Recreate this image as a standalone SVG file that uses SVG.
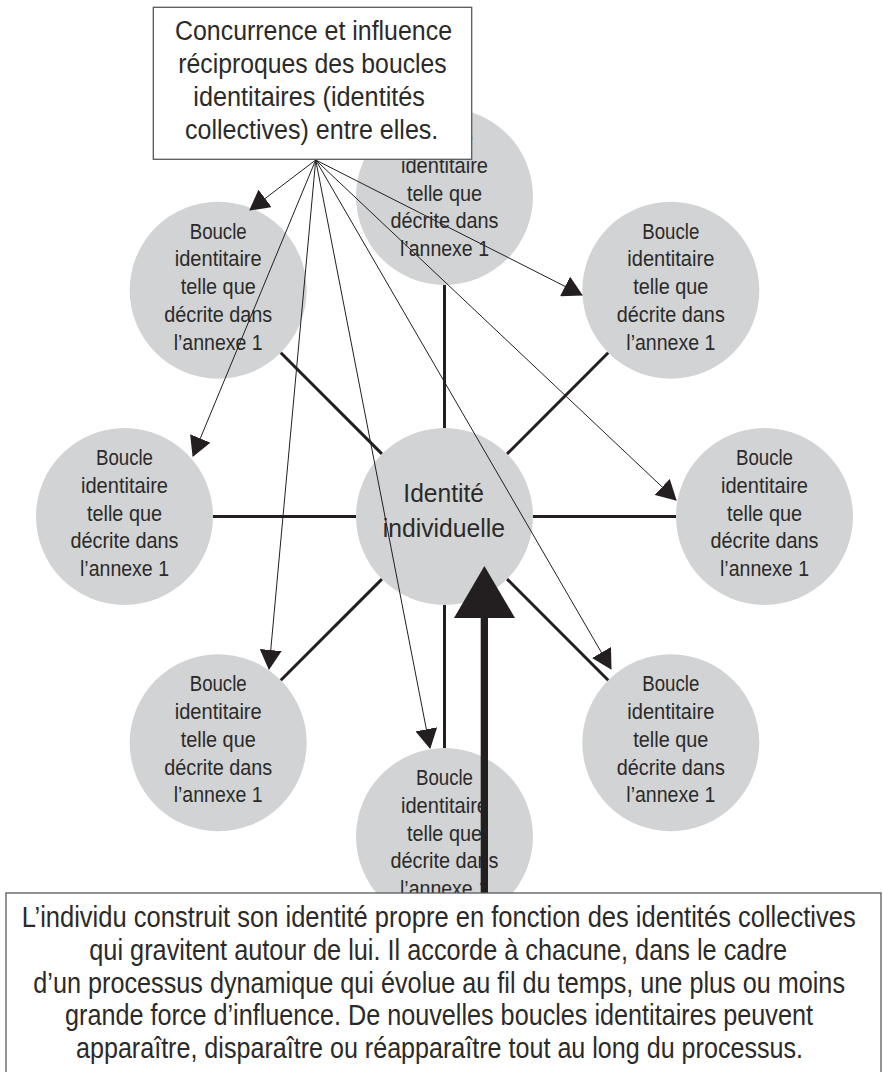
<svg xmlns="http://www.w3.org/2000/svg" width="883" height="1072" viewBox="0 0 883 1072">
<style>
.loop{fill:#d1d3d4;stroke:none}
.lbl{font-family:"Liberation Sans",Arial,sans-serif;font-size:22px;fill:#2b2a29}
.big{font-family:"Liberation Sans",Arial,sans-serif;font-size:26px;fill:#2b2a29}
.box{fill:#ffffff;stroke:#58595b;stroke-width:1.3}
.boxtxt{font-family:"Liberation Sans",Arial,sans-serif;font-size:27px;fill:#2b2a29}
.boxtxt2{font-family:"Liberation Sans",Arial,sans-serif;font-size:29px;fill:#2b2a29}
.spoke{stroke:#231f20;stroke-width:3;fill:none}
.fan{stroke:#231f20;stroke-width:1;fill:none;marker-end:url(#head)}
.thick{fill:#231f20;stroke:none}
</style>
<defs>
<marker id="head" viewBox="0 0 20 22" refX="19" refY="11" markerWidth="20" markerHeight="22" markerUnits="userSpaceOnUse" orient="auto">
<path d="M0,0 L20,11 L0,22 z" fill="#231f20"/>
</marker>
</defs>

<!-- outer loops -->
<g id="loop-top" transform="translate(444.5,196.5)">
<circle class="loop" r="88.5"/>
<text class="lbl" x="-28.5" y="-51.5" textLength="57" lengthAdjust="spacingAndGlyphs">Boucle</text>
<text class="lbl" x="-43.5" y="-23.75" textLength="87" lengthAdjust="spacingAndGlyphs">identitaire</text>
<text class="lbl" x="-37.5" y="4" textLength="75" lengthAdjust="spacingAndGlyphs">telle que</text>
<text class="lbl" x="-54" y="31.75" textLength="108" lengthAdjust="spacingAndGlyphs">décrite dans</text>
<text class="lbl" x="-44.5" y="59.5" textLength="89" lengthAdjust="spacingAndGlyphs">l’annexe 1</text>
</g>
<g id="loop-upper-right" transform="translate(670.8,290.2)">
<circle class="loop" r="88.5"/>
<text class="lbl" x="-28.5" y="-51.5" textLength="57" lengthAdjust="spacingAndGlyphs">Boucle</text>
<text class="lbl" x="-43.5" y="-23.75" textLength="87" lengthAdjust="spacingAndGlyphs">identitaire</text>
<text class="lbl" x="-37.5" y="4" textLength="75" lengthAdjust="spacingAndGlyphs">telle que</text>
<text class="lbl" x="-54" y="31.75" textLength="108" lengthAdjust="spacingAndGlyphs">décrite dans</text>
<text class="lbl" x="-44.5" y="59.5" textLength="89" lengthAdjust="spacingAndGlyphs">l’annexe 1</text>
</g>
<g id="loop-right" transform="translate(764.5,516.5)">
<circle class="loop" r="88.5"/>
<text class="lbl" x="-28.5" y="-51.5" textLength="57" lengthAdjust="spacingAndGlyphs">Boucle</text>
<text class="lbl" x="-43.5" y="-23.75" textLength="87" lengthAdjust="spacingAndGlyphs">identitaire</text>
<text class="lbl" x="-37.5" y="4" textLength="75" lengthAdjust="spacingAndGlyphs">telle que</text>
<text class="lbl" x="-54" y="31.75" textLength="108" lengthAdjust="spacingAndGlyphs">décrite dans</text>
<text class="lbl" x="-44.5" y="59.5" textLength="89" lengthAdjust="spacingAndGlyphs">l’annexe 1</text>
</g>
<g id="loop-lower-right" transform="translate(670.8,742.8)">
<circle class="loop" r="88.5"/>
<text class="lbl" x="-28.5" y="-51.5" textLength="57" lengthAdjust="spacingAndGlyphs">Boucle</text>
<text class="lbl" x="-43.5" y="-23.75" textLength="87" lengthAdjust="spacingAndGlyphs">identitaire</text>
<text class="lbl" x="-37.5" y="4" textLength="75" lengthAdjust="spacingAndGlyphs">telle que</text>
<text class="lbl" x="-54" y="31.75" textLength="108" lengthAdjust="spacingAndGlyphs">décrite dans</text>
<text class="lbl" x="-44.5" y="59.5" textLength="89" lengthAdjust="spacingAndGlyphs">l’annexe 1</text>
</g>
<g id="loop-bottom" transform="translate(444.5,836.5)">
<circle class="loop" r="88.5"/>
<text class="lbl" x="-28.5" y="-51.5" textLength="57" lengthAdjust="spacingAndGlyphs">Boucle</text>
<text class="lbl" x="-43.5" y="-23.75" textLength="87" lengthAdjust="spacingAndGlyphs">identitaire</text>
<text class="lbl" x="-37.5" y="4" textLength="75" lengthAdjust="spacingAndGlyphs">telle que</text>
<text class="lbl" x="-54" y="31.75" textLength="108" lengthAdjust="spacingAndGlyphs">décrite dans</text>
<text class="lbl" x="-44.5" y="59.5" textLength="89" lengthAdjust="spacingAndGlyphs">l’annexe 1</text>
</g>
<g id="loop-lower-left" transform="translate(218.2,742.8)">
<circle class="loop" r="88.5"/>
<text class="lbl" x="-28.5" y="-51.5" textLength="57" lengthAdjust="spacingAndGlyphs">Boucle</text>
<text class="lbl" x="-43.5" y="-23.75" textLength="87" lengthAdjust="spacingAndGlyphs">identitaire</text>
<text class="lbl" x="-37.5" y="4" textLength="75" lengthAdjust="spacingAndGlyphs">telle que</text>
<text class="lbl" x="-54" y="31.75" textLength="108" lengthAdjust="spacingAndGlyphs">décrite dans</text>
<text class="lbl" x="-44.5" y="59.5" textLength="89" lengthAdjust="spacingAndGlyphs">l’annexe 1</text>
</g>
<g id="loop-left" transform="translate(124.5,516.5)">
<circle class="loop" r="88.5"/>
<text class="lbl" x="-28.5" y="-51.5" textLength="57" lengthAdjust="spacingAndGlyphs">Boucle</text>
<text class="lbl" x="-43.5" y="-23.75" textLength="87" lengthAdjust="spacingAndGlyphs">identitaire</text>
<text class="lbl" x="-37.5" y="4" textLength="75" lengthAdjust="spacingAndGlyphs">telle que</text>
<text class="lbl" x="-54" y="31.75" textLength="108" lengthAdjust="spacingAndGlyphs">décrite dans</text>
<text class="lbl" x="-44.5" y="59.5" textLength="89" lengthAdjust="spacingAndGlyphs">l’annexe 1</text>
</g>
<g id="loop-upper-left" transform="translate(218.2,290.2)">
<circle class="loop" r="88.5"/>
<text class="lbl" x="-28.5" y="-51.5" textLength="57" lengthAdjust="spacingAndGlyphs">Boucle</text>
<text class="lbl" x="-43.5" y="-23.75" textLength="87" lengthAdjust="spacingAndGlyphs">identitaire</text>
<text class="lbl" x="-37.5" y="4" textLength="75" lengthAdjust="spacingAndGlyphs">telle que</text>
<text class="lbl" x="-54" y="31.75" textLength="108" lengthAdjust="spacingAndGlyphs">décrite dans</text>
<text class="lbl" x="-44.5" y="59.5" textLength="89" lengthAdjust="spacingAndGlyphs">l’annexe 1</text>
</g>

<!-- centre -->
<g id="individual-identity">
<circle class="loop" cx="444.5" cy="516.5" r="88.5"/>
<text class="big" x="403.3" y="501.7" textLength="80.7" lengthAdjust="spacingAndGlyphs">Identité</text>
<text class="big" x="382.7" y="536.7" textLength="122.3" lengthAdjust="spacingAndGlyphs">individuelle</text>
</g>

<!-- connectors -->
<g id="connectors">
<line class="spoke" x1="444.5" y1="428" x2="444.5" y2="285"/>
<line class="spoke" x1="444.5" y1="605" x2="444.5" y2="748"/>
<line class="spoke" x1="356" y1="516.5" x2="213" y2="516.5"/>
<line class="spoke" x1="533" y1="516.5" x2="676" y2="516.5"/>
<line class="spoke" x1="381.9" y1="453.9" x2="280.8" y2="352.8"/>
<line class="spoke" x1="507.1" y1="453.9" x2="608.2" y2="352.8"/>
<line class="spoke" x1="381.9" y1="579.1" x2="280.8" y2="680.2"/>
<line class="spoke" x1="507.1" y1="579.1" x2="608.2" y2="680.2"/>
<line class="fan" x1="315.7" y1="160" x2="250" y2="210"/>
<line class="fan" x1="315.7" y1="160" x2="193" y2="456"/>
<line class="fan" x1="315.7" y1="160" x2="269" y2="669"/>
<line class="fan" x1="315.7" y1="160" x2="430" y2="748"/>
<line class="fan" x1="315.7" y1="160" x2="611" y2="669"/>
<line class="fan" x1="315.7" y1="160" x2="676" y2="500"/>
<line class="fan" x1="315.7" y1="160" x2="582" y2="295"/>
<rect class="thick" x="480.7" y="615" width="7.3" height="278"/>
<polygon class="thick" points="484.4,566 515,618 454,618"/>
</g>

<!-- boxes -->
<g id="box-concurrence">
<rect class="box" x="153.3" y="7.3" width="318.4" height="152"/>
<text class="boxtxt" x="175" y="39.5" textLength="277" lengthAdjust="spacingAndGlyphs">Concurrence et influence</text>
<text class="boxtxt" x="178.3" y="72.8" textLength="268.4" lengthAdjust="spacingAndGlyphs">réciproques des boucles</text>
<text class="boxtxt" x="193.3" y="106.1" textLength="231.7" lengthAdjust="spacingAndGlyphs">identitaires (identités</text>
<text class="boxtxt" x="185" y="139.4" textLength="253.3" lengthAdjust="spacingAndGlyphs">collectives) entre elles.</text>
</g>
<g id="box-individu">
<rect class="box" x="6" y="893" width="875" height="200"/>
<text class="boxtxt2" x="21.7" y="927.3" textLength="834" lengthAdjust="spacingAndGlyphs">L’individu construit son identité propre en fonction des identités collectives</text>
<text class="boxtxt2" x="89.3" y="960" textLength="697.7" lengthAdjust="spacingAndGlyphs">qui gravitent autour de lui. Il accorde à chacune, dans le cadre</text>
<text class="boxtxt2" x="33.3" y="992.7" textLength="811.7" lengthAdjust="spacingAndGlyphs">d’un processus dynamique qui évolue au fil du temps, une plus ou moins</text>
<text class="boxtxt2" x="65" y="1025.3" textLength="748" lengthAdjust="spacingAndGlyphs">grande force d’influence. De nouvelles boucles identitaires peuvent</text>
<text class="boxtxt2" x="76" y="1058" textLength="727" lengthAdjust="spacingAndGlyphs">apparaître, disparaître ou réapparaître tout au long du processus.</text>
</g>
</svg>
